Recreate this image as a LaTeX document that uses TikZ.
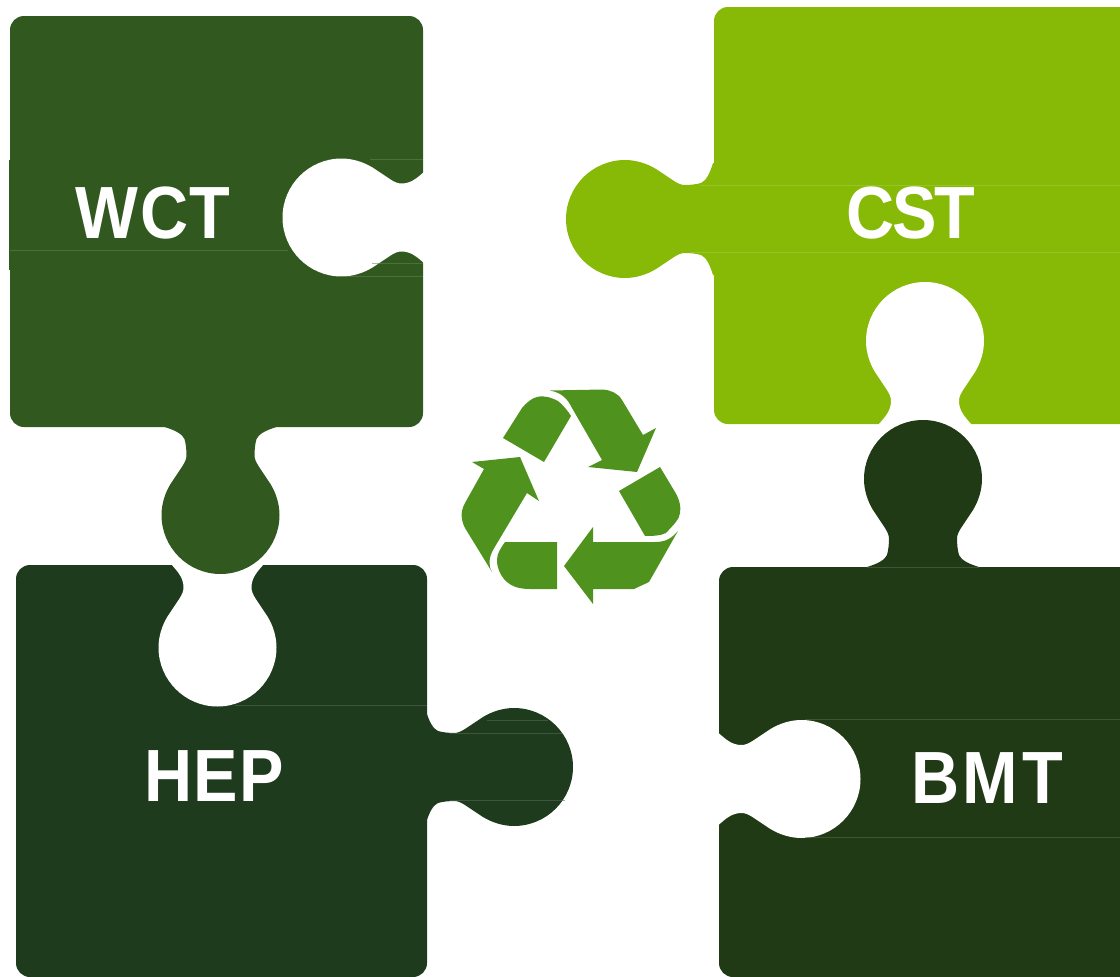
\documentclass[tikz,border=0pt]{standalone}
\usepackage{fontspec}
\setmainfont{Liberation Sans}
\definecolor{wct}{HTML}{31581F}
\definecolor{hep}{HTML}{1F3B1E}
\definecolor{cst}{HTML}{87BA07}
\definecolor{bmt}{HTML}{203A15}
\definecolor{rec}{HTML}{4F931E}
\newcommand\labelfont[1]{\fontsize{74}{74}\selectfont\bfseries\addfontfeature{FakeStretch=0.9,LetterSpace=#1}}
\tikzset{
  label text/.style={text=white,inner sep=0pt,anchor=center},
  seam/.style={line width=0.5pt,draw opacity=0.55},
  piece/.style={rounded corners=14pt}
}
% tab: colour, centre x, centre y, rotation
\newcommand\puzzletab[4]{\fill[#1,shift={(#2,#3)},rotate=#4]
 (-56,-88) .. controls (-46,-85) and (-38,-81) .. (-36,-76) .. controls (-34.5,-71) and (-34,-64) .. (-34,-60)
 .. controls (-34,-56) and (-35.5,-53) .. (-38,-49) -- (-50,-31) .. controls (-55.5,-22) and (-59,-11) .. (-59,0)
 .. controls (-59,32.5) and (-32.5,59) .. (0,59) .. controls (32.5,59) and (59,32.5) .. (59,0)
 .. controls (59,-11) and (55.5,-22) .. (50,-31) -- (38,-49) .. controls (35.5,-53) and (34,-56) .. (34,-60)
 .. controls (34,-64) and (34.5,-71) .. (36,-76) .. controls (38,-81) and (46,-85) .. (56,-88)
 -- (56,-92) -- (-56,-92) -- cycle;}
% notch: white cut-out, centre x, centre y, rotation
\newcommand\puzzlenotch[3]{\fill[white,shift={(#1,#2)},rotate=#3]
 (-46,-83) .. controls (-40,-76) and (-34,-70) .. (-34,-60)
 .. controls (-34,-56) and (-35.5,-53) .. (-38,-49) -- (-50,-31) .. controls (-55.5,-22) and (-59,-11) .. (-59,0)
 .. controls (-59,32.5) and (-32.5,59) .. (0,59) .. controls (32.5,59) and (59,32.5) .. (59,0)
 .. controls (59,-11) and (55.5,-22) .. (50,-31) -- (38,-49) .. controls (35.5,-53) and (34,-56) .. (34,-60)
 .. controls (34,-70) and (40,-76) .. (46,-83)
 -- (46,-90) -- (-46,-90) -- cycle;}
\begin{document}
\begin{tikzpicture}[x=1pt,y=-1pt]
\useasboundingbox (0,0) rectangle (1120,977);
\clip (0,0) rectangle (1120,977);
% bodies
\fill[cst,piece] (714,7) rectangle (1140,424);
\fill[bmt,piece] (719,567) rectangle (1140,977);
\fill[hep,piece] (16,565) rectangle (427,977);
\fill[wct,piece] (10,16) rectangle (423,427);
\fill[wct] (9,160) rectangle (11,270);
% notches
\puzzlenotch{341.5}{217.5}{-90}
\puzzlenotch{217.5}{647.5}{0}
\puzzlenotch{925}{341}{180}
\puzzlenotch{801.5}{779}{90}
% tabs
\puzzletab{wct}{220.5}{515}{0}
\puzzletab{hep}{514}{767}{90}
\puzzletab{cst}{625}{219}{-90}
\puzzletab{bmt}{923}{479}{180}
% seams
\draw[seam,wct!75!white] (370,159.5) -- (423,159.5) (10,250.5) -- (288,250.5) (372,263.5) -- (423,263.5) (340,276.5) -- (423,276.5);
\draw[seam,hep!75!white] (235,705.5) -- (427,705.5) (487,720.5) -- (548,720.5) (450,733.5) -- (562,733.5) (450,800.5) -- (565,800.5);
\draw[seam,cst!75!white] (700,185.5) -- (1120,185.5) (690,252.5) -- (1120,252.5);
\draw[seam,bmt!75!white] (805,719.5) -- (1120,719.5) (805,837.5) -- (1120,837.5) (867,567.5) -- (979,567.5);
% recycling symbol
\fill[rec] (550,390.5) -- (603,389.5) .. controls (610,390) and (618,393) .. (622,400) -- (643,435) -- (656,428) -- (637,472) -- (588,467) -- (602,460) -- (572,408) .. controls (568,400) and (563,393) .. (550,390.5) -- cycle;
\fill[rec] (503,438) -- (522,408) .. controls (526,403) and (532,398) .. (537,397) .. controls (545,395) and (552,398) .. (558,401) .. controls (563,405) and (568,411) .. (571,416) -- (544,462) -- cycle;
\fill[rec] (472,462) -- (520,457) -- (539,501) -- (527,493) -- (493,550) .. controls (489,558) and (488,565) .. (492,572) -- (465,528) .. controls (461,520) and (460,512) .. (465,503) -- (484,469) -- cycle;
\fill[rec] (505,542) -- (557,542) -- (557,589) -- (530,589) .. controls (518,589) and (510,586) .. (504,579) .. controls (500,574) and (497,568) .. (497,560) .. controls (497,553) and (501,548) .. (505,542) -- cycle;
\fill[rec] (593,527) -- (593,542) -- (655,542) .. controls (665,542) and (671,539) .. (678,531) -- (649,582) -- (634,589) -- (593,589) -- (593,604) -- (564,566) -- cycle;
\fill[rec] (660,467) -- (675,492) .. controls (680,500) and (681,508) .. (680,513) .. controls (679,520) and (675,523) .. (666,533) .. controls (660,536) and (652,536) .. (645,536) -- (619,491) -- cycle;
% labels
\node[label text,font=\labelfont{2}] (wctlabel) at (153,213.5) {WCT};
\node[label text,font=\labelfont{-3}] (cstlabel) at (911,213) {CST};
\node[label text,font=\labelfont{2}] (heplabel) at (214,776) {HEP};
\node[label text,font=\labelfont{5}] (bmtlabel) at (987,778) {BMT};
\end{tikzpicture}
\end{document}
